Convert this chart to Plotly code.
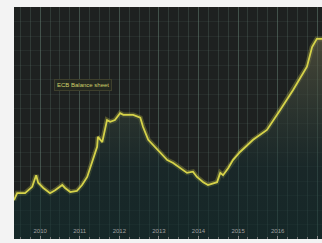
import plotly.graph_objects as go

# Data (year, balance sheet in EUR trillion, approx.)
years = [2009.34, 2009.42, 2009.62, 2009.80, 2009.90, 2009.95, 2010.08, 2010.25,
         2010.38, 2010.56, 2010.63, 2010.76, 2010.93, 2011.06, 2011.19, 2011.31,
         2011.44, 2011.46, 2011.57, 2011.69, 2011.77, 2011.89, 2012.02, 2012.10,
         2012.35, 2012.53, 2012.60, 2012.73, 2012.90, 2013.03, 2013.21, 2013.36,
         2013.54, 2013.71, 2013.86, 2013.96, 2014.12, 2014.24, 2014.47, 2014.55,
         2014.62, 2014.75, 2014.87, 2015.05, 2015.38, 2015.73, 2016.06, 2016.39,
         2016.74, 2016.87, 2016.99, 2017.12]
values = [1.67, 1.79, 1.79, 1.90, 2.10, 1.97, 1.88, 1.79,
          1.84, 1.93, 1.88, 1.81, 1.83, 1.93, 2.07, 2.31,
          2.59, 2.76, 2.67, 3.05, 3.02, 3.05, 3.17, 3.14,
          3.14, 3.09, 2.93, 2.71, 2.59, 2.48, 2.36, 2.31,
          2.22, 2.14, 2.16, 2.07, 1.98, 1.93, 1.98, 2.14,
          2.10, 2.22, 2.36, 2.50, 2.71, 2.88, 3.22, 3.57,
          3.97, 4.31, 4.45, 4.45]
tick_years = [2010, 2011, 2012, 2013, 2014, 2015, 2016, 2017]
tick_labels = ["2010", "2011", "2012", "2013", "2014", "2015", "2016", "2017"]
series_name = "ECB Balance sheet"

fig = go.Figure()
fig.add_trace(go.Scatter(
    x=years, y=values, mode="lines", line=dict(color="rgba(220,220,80,0.28)", width=5),
    showlegend=False, hoverinfo="skip",
))
fig.add_trace(go.Scatter(
    x=years, y=values, mode="lines", name=series_name,
    line=dict(color="#d6d34a", width=1.8),
    fill="tozeroy",
    fillgradient=dict(type="vertical",
                      colorscale=[[0, "rgba(10,45,45,0.6)"], [0.5, "rgba(20,45,48,0.5)"], [1, "rgba(95,92,68,0.65)"]]),
    showlegend=False,
))

fig.add_annotation(
    x=0.13, y=0.665, xref="paper", yref="paper", xanchor="left", yanchor="middle",
    text=series_name, showarrow=False,
    font=dict(family="Liberation Sans", size=6, color="#cfcf6a"),
    bgcolor="#242820", bordercolor="#3e3f2c", borderwidth=1, borderpad=2,
)

fig.update_layout(
    width=322, height=243,
    margin=dict(l=14, r=0, t=7, b=4),
    paper_bgcolor="#f3f3f3",
    plot_bgcolor="#1e2120",
    xaxis=dict(
        range=[2009.34, 2017.12],
        tickmode="array", tickvals=tick_years, ticktext=tick_labels,
        ticklabelposition="inside", ticks="inside", ticklen=3, tickcolor="#888",
        tickfont=dict(family="Liberation Sans", size=6, color="#a0a0a0"),
        showgrid=True, gridcolor="rgba(110,140,125,0.30)", gridwidth=1,
        minor=dict(dtick=0.25, ticks="inside", ticklen=2, tickcolor="#777",
                   showgrid=True, gridcolor="rgba(110,140,125,0.24)", gridwidth=1),
        zeroline=False, showline=False,
    ),
    yaxis=dict(
        range=[1.0, 5.0], showticklabels=False, ticks="",
        showgrid=True, dtick=0.25, gridcolor="rgba(110,130,120,0.12)",
        zeroline=False, showline=False,
    ),
)

fig.write_html("out.html", config={"displayModeBar": False},
               post_script="document.body.style.margin='0';")
